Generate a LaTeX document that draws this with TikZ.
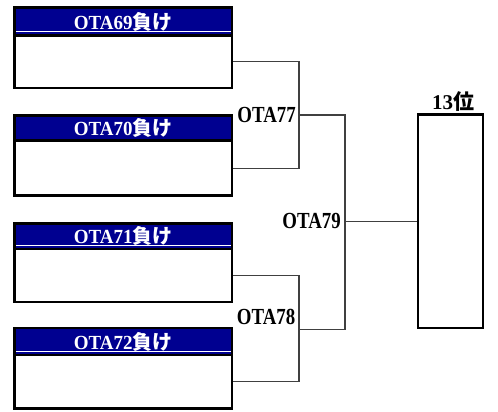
\documentclass[tikz,border=0pt]{standalone}
\usepackage{fontspec}
\setmainfont{Liberation Serif}
\newfontfamily\cjk{Noto Sans CJK JP}
\definecolor{hdrblue}{RGB}{0,0,144}
\definecolor{conngray}{RGB}{64,64,64}
\newcommand{\condlbl}[1]{\scalebox{0.82}[1]{#1}}
\begin{document}
\begin{tikzpicture}[x=1pt,y=-1pt,
  hdr/.style={draw=black, line width=2.7pt, fill=hdrblue, minimum width=217.5pt,
    inner sep=0pt, text=white, font=\fontsize{20}{20}\selectfont\bfseries},
  body/.style={draw=black, line width=2.7pt, fill=white, minimum width=217.5pt, inner sep=0pt},
  conn/.style={draw=conngray, line width=1.2pt},
  lbl/.style={inner sep=0pt, anchor=east, font=\fontsize{23}{23}\selectfont\bfseries},
  finalbox/.style={draw=black, line width=2.7pt, fill=white, minimum width=65pt,
    minimum height=213.3pt, inner sep=0pt},
  strip/.style={draw=white, line width=1pt}]
\useasboundingbox (0,0) rectangle (498,412);

% junction points
\coordinate (m77) at (299,115);
\coordinate (m78) at (299,329.5);
\coordinate (m79) at (345,221.3);

% box 1
\node[hdr, minimum height=28.25pt] (h1) at (123.25,21.6) {\scalebox{0.95}[1]{OTA69}{\cjk\bfseries 負け}};
\node[body, minimum height=52.25pt] (b1) at (123.25,61.9) {};
\draw[strip] (16,32) -- (230.5,32);
% box 2
\node[hdr, minimum height=25.5pt] (h2) at (123.25,128.05) {\scalebox{0.95}[1]{OTA70}{\cjk\bfseries 負け}};
\node[body, minimum height=54.7pt] (b2) at (123.25,168.15) {};
% box 3
\node[hdr, minimum height=25.7pt] (h3) at (123.25,236.15) {\scalebox{0.95}[1]{OTA71}{\cjk\bfseries 負け}};
\node[body, minimum height=53pt] (b3) at (123.25,275.5) {};
\draw[strip] (16,245.5) -- (230.5,245.5);
% box 4
\node[hdr, minimum height=27pt] (h4) at (123.25,341.5) {\scalebox{0.95}[1]{OTA72}{\cjk\bfseries 負け}};
\node[body, minimum height=53.5pt] (b4) at (123.25,381.75) {};
\draw[strip] (16,351.5) -- (230.5,351.5);

% final box
\node[finalbox] (fin) at (450.5,221.3) {};
\node[inner sep=0pt, anchor=base, font=\fontsize{21}{21}\selectfont\bfseries] (rank) at (453,109) {13{\cjk\bfseries 位}};

\draw[conn] (b1.east) -| (m77) |- (b2.east);
\draw[conn] (b3.east) -| (m78) |- (b4.east);
\draw[conn] (m77) -| (m79) |- (m78);
\draw[conn] (m79) -- (fin.west);

% labels
\node[lbl] (l77) at (296,115) {\condlbl{OTA77}};
\node[lbl] (l79) at (341,221) {\condlbl{OTA79}};
\node[lbl] (l78) at (295.5,316.5) {\condlbl{OTA78}};
\end{tikzpicture}
\end{document}
